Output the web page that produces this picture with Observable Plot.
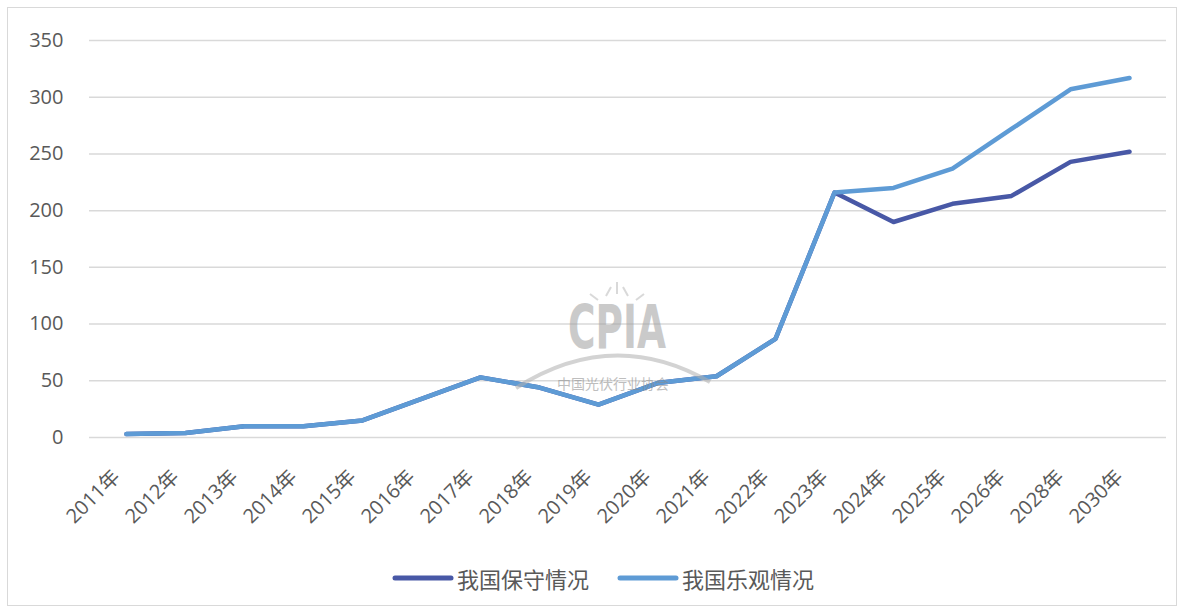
<!DOCTYPE html>
<html>
<head>
<meta charset="utf-8">
<script src="https://cdn.jsdelivr.net/npm/d3@7"></script>
<script src="https://cdn.jsdelivr.net/npm/@observablehq/plot@0.6"></script>
<style>
  html, body { margin: 0; padding: 0; background: #fff; }
  #frame {
    position: absolute; left: 7px; top: 7px; width: 1170px; height: 599px;
    border: 1px solid #d9d9d9; box-sizing: border-box; background: #fff;
    font-family: "Open Sans", "Noto Sans CJK SC", sans-serif;
  }
  #chart { position: absolute; left: 0; top: 0; }
  #wm { position: absolute; left: 490px; top: 268px; pointer-events: none; }
  #legend {
    position: absolute; left: 384px; top: 554px; display: flex; align-items: center;
    font-family: "Noto Sans CJK SC", sans-serif; font-size: 22px; color: #595959;
  }
  .item { display: flex; align-items: center; margin-right: 28px; }
  .item svg { margin-right: 3px; }
</style>
</head>
<body>
<div id="frame">
  <div id="chart"></div>
  <svg id="wm" width="240" height="140" viewBox="0 0 240 140">
    <g opacity="0.55">
      <text x="70" y="72" textLength="98" lengthAdjust="spacingAndGlyphs" font-family="DejaVu Sans" font-weight="bold" font-size="60" fill="#a0a0a0">CPIA</text>
      <path d="M18,112 Q115,50 212,106" fill="none" stroke="#b0b0b0" stroke-width="4"/>
      <text x="115" y="113" text-anchor="middle" font-family="Noto Sans CJK SC" font-size="14" fill="#8a8a8a">中国光伏行业协会</text>
      <path d="M108,20 l5,-9 M119,18 l0,-12 M130,20 l-5,-9 M100,24 l-8,-6 M138,24 l8,-6" stroke="#bbb" stroke-width="2"/>
    </g>
  </svg>
  <div id="legend">
    <div class="item"><svg width="62" height="10"><line x1="3" y1="5" x2="59" y2="5" stroke="#4858A6" stroke-width="5" stroke-linecap="round"/></svg>我国保守情况</div>
    <div class="item"><svg width="62" height="10"><line x1="3" y1="5" x2="59" y2="5" stroke="#5E9BD5" stroke-width="5" stroke-linecap="round"/></svg>我国乐观情况</div>
  </div>
</div>
<script>
const years = ["2011年","2012年","2013年","2014年","2015年","2016年","2017年","2018年","2019年","2020年","2021年","2022年","2023年","2024年","2025年","2026年","2028年","2030年"];
const conservative = [3,4,10,10,15,34,53,44,29,48,54,87,216,190,206,213,243,252];
const optimistic   = [3,4,10,10,15,34,53,44,29,48,54,87,216,220,237,272,307,317];
const seriesNames = ["我国保守情况","我国乐观情况"];
const seriesColors = ["#4858A6","#5E9BD5"];
const yTicks = [0,50,100,150,200,250,300,350];

const rows = [];
years.forEach((y, i) => {
  rows.push({year: y, value: conservative[i], series: seriesNames[0]});
  rows.push({year: y, value: optimistic[i], series: seriesNames[1]});
});

const chart = Plot.plot({
  width: 1168,
  height: 540,
  marginLeft: 81,
  marginRight: 10,
  marginTop: 32,
  marginBottom: 111,
  style: {fontFamily: "'Open Sans', 'Noto Sans CJK SC', sans-serif", fontSize: "20px", color: "#595959", background: "transparent"},
  x: {type: "point", domain: years, padding: 0.5, label: null},
  y: {domain: [0, 350], ticks: yTicks, label: null},
  color: {domain: seriesNames, range: seriesColors},
  marks: [
    Plot.gridY(yTicks, {stroke: "#d9d9d9", strokeOpacity: 1, strokeWidth: 1.5}),
    Plot.axisY({ticks: yTicks, tickSize: 0, tickPadding: 26, fontSize: 20, label: null}),
    Plot.axisX({tickSize: 0, tickRotate: -45, tickPadding: 10, dx: -10, dy: 26, fontSize: 20, label: null}),
    Plot.line(rows.filter(d => d.series === seriesNames[0]), {x: "year", y: "value", stroke: "series", strokeWidth: 4.5, strokeLinejoin: "round"}),
    Plot.line(rows.filter(d => d.series === seriesNames[1]), {x: "year", y: "value", stroke: "series", strokeWidth: 4.5, strokeLinejoin: "round"})
  ]
});
document.getElementById("chart").appendChild(chart);
</script>
</body>
</html>
